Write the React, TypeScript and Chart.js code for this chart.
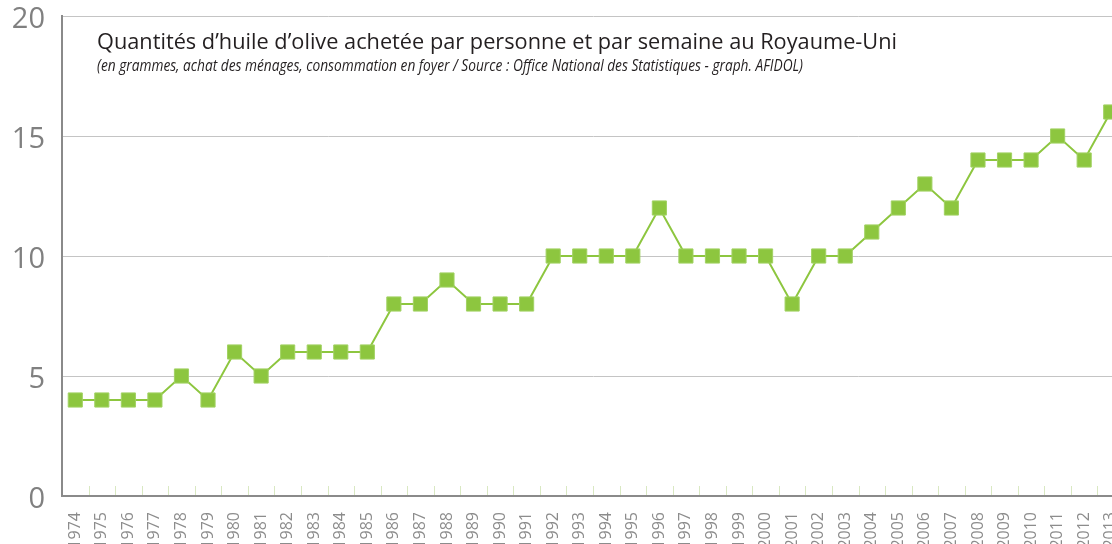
import React, { useEffect, useRef } from "react";
import { Chart, registerables } from "chart.js";

Chart.register(...registerables);

const years: string[] = [
  "1974", "1975", "1976", "1977", "1978", "1979", "1980", "1981", "1982", "1983",
  "1984", "1985", "1986", "1987", "1988", "1989", "1990", "1991", "1992", "1993",
  "1994", "1995", "1996", "1997", "1998", "1999", "2000", "2001", "2002", "2003",
  "2004", "2005", "2006", "2007", "2008", "2009", "2010", "2011", "2012", "2013",
];

const grams: number[] = [
  4, 4, 4, 4, 5, 4, 6, 5, 6, 6,
  6, 6, 8, 8, 9, 8, 8, 8, 10, 10,
  10, 10, 12, 10, 10, 10, 10, 8, 10, 10,
  11, 12, 13, 12, 14, 14, 14, 15, 14, 16,
];

const yMin = 0;
const yMax = 20;
const yStep = 5;

const titleText = "Quantités d’huile d’olive achetée par personne et par semaine au Royaume-Uni";
const subtitleText =
  "(en grammes, achat des ménages, consommation en foyer / Source : Office National des Statistiques - graph. AFIDOL)";

const GREEN = "#8dc63f";

const overlayPlugin = {
  id: "overlay",
  beforeDatasetsDraw(chart: any) {
    const ctx = chart.ctx;
    const xs = chart.scales.x;
    const bottom = chart.chartArea.bottom;
    ctx.save();
    ctx.strokeStyle = "#d9e8c2";
    ctx.lineWidth = 1;
    for (let i = 1; i <= years.length; i++) {
      const px = Math.round(xs.getPixelForValue(i - 0.5)) + 0.5;
      ctx.beginPath();
      ctx.moveTo(px, bottom - 10);
      ctx.lineTo(px, bottom - 1);
      ctx.stroke();
    }
    ctx.restore();
  },
  afterDraw(chart: any) {
    const ctx = chart.ctx;
    ctx.save();
    ctx.fillStyle = "#231f20";
    ctx.textAlign = "left";
    ctx.textBaseline = "alphabetic";
    ctx.font = "22px 'Open Sans', sans-serif";
    ctx.fillText(titleText, 97, 49, 800);
    ctx.font = "italic 16px 'Liberation Sans Narrow', 'Open Sans', sans-serif";
    ctx.fillText(subtitleText, 97, 71, 706);
    ctx.restore();
  },
};

export default function App() {
  const ref = useRef<HTMLCanvasElement | null>(null);

  useEffect(() => {
    if (!ref.current) return;
    const chart = new Chart(ref.current, {
      type: "line",
      data: {
        labels: years,
        datasets: [
          {
            data: grams,
            borderColor: GREEN,
            backgroundColor: GREEN,
            borderWidth: 2,
            pointStyle: "rect",
            pointRadius: 10,
            pointHoverRadius: 10,
            pointBackgroundColor: GREEN,
            pointBorderColor: "#a2d264",
            pointBorderWidth: 1,
            tension: 0,
            clip: false as any,
          },
        ],
      },
      options: {
        animation: false,
        responsive: false,
        devicePixelRatio: 1,
        layout: { autoPadding: false, padding: { top: 16, left: 0, right: 0, bottom: 0 } },
        plugins: {
          legend: { display: false },
          title: { display: false },
          tooltip: { enabled: false },
        },
        scales: {
          x: {
            type: "category",
            offset: true,
            grid: { display: false },
            border: { display: true, color: "#8a8a8a", width: 2 },
            ticks: {
              autoSkip: false,
              minRotation: 90,
              maxRotation: 90,
              padding: 8,
              color: "#8c8c8c",
              font: { family: "'Open Sans', sans-serif", size: 16 },
            },
            afterFit: (s: any) => {
              s.height = 64;
              s.paddingLeft = 0;
              s.paddingRight = 0;
            },
          },
          y: {
            min: yMin,
            max: yMax,
            ticks: {
              stepSize: yStep,
              padding: 17,
              labelOffset: 4,
              color: "#808080",
              font: { family: "'Open Sans', sans-serif", size: 29 },
            },
            grid: {
              drawTicks: false,
              color: (c: any) => (c.tick && c.tick.value === 0 ? "rgba(0,0,0,0)" : "#c4c4c4"),
              lineWidth: 1,
            },
            border: { display: true, color: "#8a8a8a", width: 2 },
            afterFit: (s: any) => {
              s.width = 62;
              s.paddingTop = 0;
              s.paddingBottom = 0;
            },
          },
        },
      },
      plugins: [overlayPlugin],
    });
    return () => chart.destroy();
  }, []);

  return (
    <div
      style={{
        position: "fixed",
        left: 0,
        top: 0,
        width: 1112,
        height: 544,
        overflow: "hidden",
        background: "#ffffff",
      }}
    >
      <canvas ref={ref} width={1124} height={560} style={{ display: "block" }} />
    </div>
  );
}
